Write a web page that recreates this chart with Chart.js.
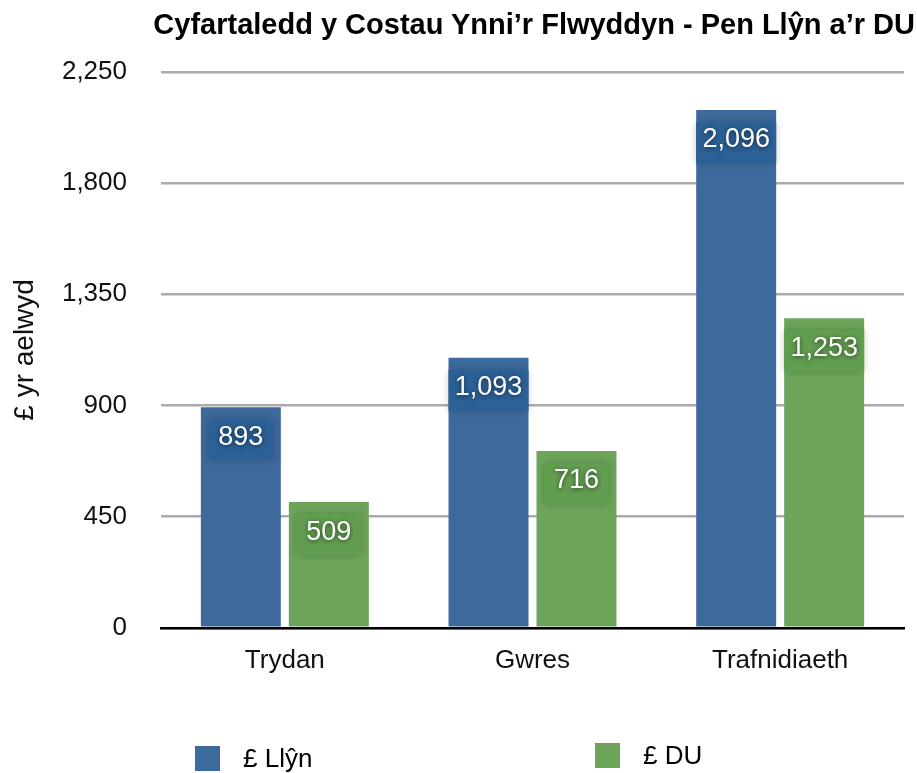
<!DOCTYPE html>
<html>
<head>
<meta charset="utf-8">
<script src="https://cdn.jsdelivr.net/npm/chart.js@4/dist/chart.umd.min.js"></script>
<style>
    html, body { margin: 0; padding: 0; background: #fff; }
    #wrap { position: relative; width: 917px; height: 773px; font-family: "Liberation Sans", Arial, sans-serif; }
    #title { position: absolute; right: 2px; top: 8px; font-weight: bold; font-size: 29px; color: #000; white-space: nowrap; }
    .legend-item { position: absolute; display: flex; align-items: center; font-size: 26px; color: #000; }
    .legend-item span.box { display: inline-block; width: 25px; height: 25px; margin-right: 23px; }
</style>
</head>
<body>
<div id="wrap">
    <canvas id="costChart" width="917" height="773"></canvas>
    <div id="title">Cyfartaledd y Costau Ynni’r Flwyddyn - Pen Llŷn a’r DU</div>
    <div id="legend"></div>
</div>
<script>
const categories = ["Trydan", "Gwres", "Trafnidiaeth"];
const llynValues = [893, 1093, 2096];
const ukValues = [509, 716, 1253];
const seriesNames = ["£ Llŷn", "£ DU"];
const yTicks = [0, 450, 900, 1350, 1800, 2250];

const barColors = ["#3d6a9c", "#6ca55a"];
const labelBoxColors = ["#2c6196", "#629e50"];

const fmt = (v) => v.toLocaleString("en-GB");

// value labels sitting on a darker box near the top of each bar
const valueLabels = {
    id: "valueLabels",
    afterDatasetsDraw(chart) {
        const ctx = chart.ctx;
        ctx.save();
        ctx.font = "27px 'Liberation Sans', Arial, sans-serif";
        ctx.textAlign = "center";
        ctx.textBaseline = "middle";
        chart.data.datasets.forEach((ds, di) => {
            const meta = chart.getDatasetMeta(di);
            meta.data.forEach((bar, i) => {
                const text = fmt(ds.data[i]);
                const tw = ctx.measureText(text).width;
                const bw = Math.min(tw + 20, bar.width);
                ctx.save();
                ctx.shadowColor = "rgba(0,0,0,0.2)";
                ctx.shadowBlur = 8;
                ctx.fillStyle = labelBoxColors[di];
                ctx.fillRect(bar.x - bw / 2, bar.y + 12, bw, 41);
                ctx.restore();
                ctx.save();
                ctx.shadowColor = "rgba(0,0,0,0.6)";
                ctx.shadowBlur = 5;
                ctx.shadowOffsetY = 1;
                ctx.fillStyle = "#fff";
                ctx.fillText(text, bar.x, bar.y + 30);
                ctx.restore();
            });
        });
        ctx.restore();
    }
};

new Chart(document.getElementById("costChart"), {
    type: "bar",
    data: {
        labels: categories,
        datasets: [
            { label: seriesNames[0], data: llynValues, backgroundColor: barColors[0] },
            { label: seriesNames[1], data: ukValues, backgroundColor: barColors[1] }
        ]
    },
    options: {
        responsive: false,
        animation: false,
        layout: { padding: { top: 72, right: 13, bottom: 80, left: 0 } },
        categoryPercentage: 0.7105,
        barPercentage: 0.909,
        plugins: {
            legend: { display: false },
            tooltip: { enabled: false }
        },
        scales: {
            x: {
                grid: { display: false, drawTicks: false },
                border: { display: true, color: "#000", width: 2.5 },
                ticks: { color: "#111", padding: 17, font: { size: 26, family: "'Liberation Sans', Arial, sans-serif" } }
            },
            y: {
                min: 0,
                max: 2250,
                afterBuildTicks: (scale) => { scale.ticks = yTicks.map((v) => ({ value: v })); },
                afterFit: (scale) => { scale.width = 161; },
                grid: { color: "#ababab", lineWidth: 2.5, drawTicks: false },
                border: { display: false },
                ticks: {
                    color: "#111",
                    padding: 34,
                    font: { size: 26, family: "'Liberation Sans', Arial, sans-serif" },
                    callback: (v) => fmt(v)
                },
                title: {
                    display: true,
                    text: "£ yr aelwyd",
                    color: "#111",
                    padding: { top: 8, bottom: 0 },
                    font: { size: 28, family: "'Liberation Sans', Arial, sans-serif" }
                }
            }
        }
    },
    plugins: [valueLabels]
});

// legend below the plot
const legendPos = [{ left: 195, top: 743 }, { left: 595, top: 740 }];
const legend = document.getElementById("legend");
seriesNames.forEach((name, i) => {
    const item = document.createElement("div");
    item.className = "legend-item";
    item.style.left = legendPos[i].left + "px";
    item.style.top = legendPos[i].top + "px";
    const box = document.createElement("span");
    box.className = "box";
    box.style.background = barColors[i];
    item.appendChild(box);
    item.appendChild(document.createTextNode(name));
    legend.appendChild(item);
});
</script>
</body>
</html>
